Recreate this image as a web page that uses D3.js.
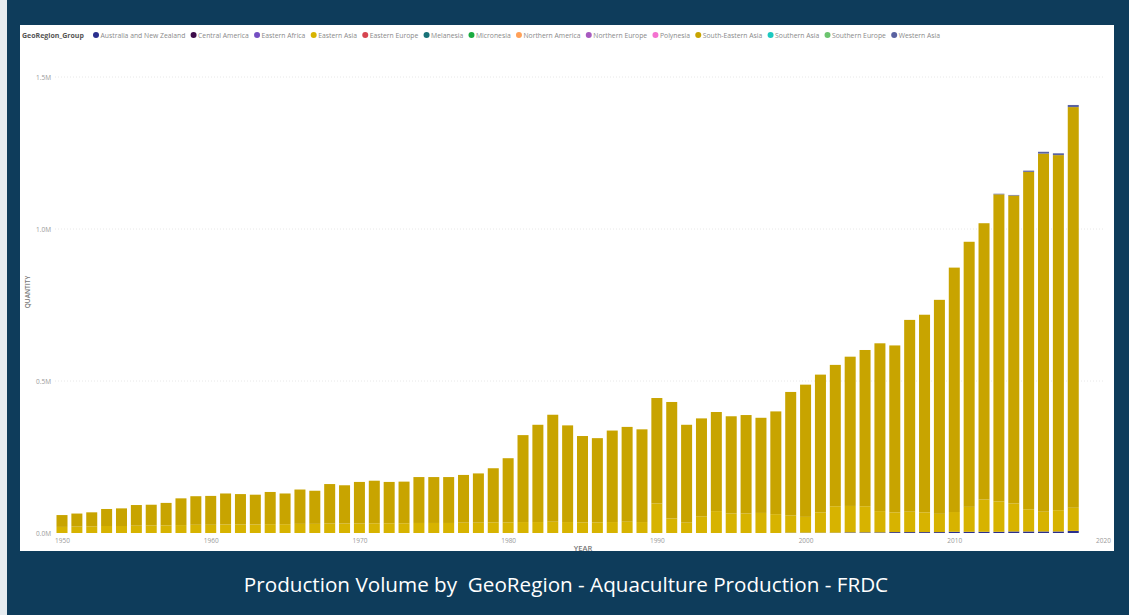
<!DOCTYPE html>
<html>
<head>
<meta charset="utf-8">
<script src="https://cdn.jsdelivr.net/npm/d3@7"></script>
<style>
  html, body { margin: 0; padding: 0; background: #0e3c5b; }
  svg { display: block; }
</style>
</head>
<body>
<svg id="chart" width="1129" height="615"></svg>
<script>
// ---------------- DATA (values in thousands of units) ----------------
const years = d3.range(1950, 2019);

const seriesNames = [
  "Australia and New Zealand", "Central America", "Eastern Africa", "Eastern Asia",
  "Eastern Europe", "Melanesia", "Micronesia", "Northern America", "Northern Europe",
  "Polynesia", "South-Eastern Asia", "Southern Asia", "Southern Europe", "Western Asia"
];
const seriesColors = [
  "#2a2f8e", "#3d0b4a", "#744ec2", "#d7b300",
  "#d64550", "#197278", "#1aab40", "#ffa058", "#a75ac0",
  "#f472d0", "#c8a400", "#1cc9c0", "#6cc46f", "#5a62a0"
];

const ausNZ = [
  0,0,0,0,0,0,0,0,0,0,
  0,0,0,0,0,0,0,0,0,0,
  0,0,0,0,0,0,0,0,0,0,
  0,0,0,0,0,0,0,0,0,0,
  0,0,0,0,0,0,0,0,0,1,
  1,1,1,2,2,2,3,3,3,3,
  4,4,4,4,5,5,5,5,7
];
const eastAsia = [
  20,21,22,23,23,24,25,25,26,27,
  27,28,28,28,29,29,30,30,31,31,
  31,32,32,32,33,33,33,34,34,35,
  35,36,36,37,36,35,35,36,37,36,
  97,48,34,55,72,64,64,66,62,57,
  52,67,87,87,86,70,65,67,65,60,
  65,82,106,100,92,73,65,70,76
];
const seAsia = [
  39,43,46,56,58,68,68,74,88,94,
  95,102,100,98,106,101,113,109,130,126,
  137,140,136,137,151,151,151,157,162,178,
  211,286,320,352,318,284,277,301,312,305,
  347,383,322,322,326,320,324,313,338,406,
  435,453,465,491,514,552,549,631,650,704,
  804,872,909,1010,1013,1110,1178,1168,1318
];
const westAsia = [
  0,0,0,0,0,0,0,0,0,0,
  0,0,0,0,0,0,0,0,0,0,
  0,0,0,0,0,0,0,0,0,0,
  0,0,0,0,0,0,0,0,0,0,
  0,0,0,0,0,0,0,0,0,0,
  0,0,0,0,0,0,0,0,0,0,
  0,0,0,2,2,4,6,6,7
];

const yTickValues = [0, 500, 1000, 1500];
const yTickLabels = ["0.0M", "0.5M", "1.0M", "1.5M"];
const xTickValues = [1950, 1960, 1970, 1980, 1990, 2000, 2010, 2020];

const titleText = "Production Volume by  GeoRegion - Aquaculture Production - FRDC";

// ---------------- LAYOUT ----------------
const svg = d3.select("#chart");
const W = 1129, H = 615;
const panel = { x: 20, y: 25, w: 1094, h: 526 };
const plot = { left: 55, right: 1103, top: 77, bottom: 533 };
const font = "'Open Sans', 'Noto Sans', sans-serif";

svg.append("rect").attr("width", W).attr("height", H).attr("fill", "#0e3c5b");
svg.append("rect").attr("x", 0).attr("y", 0).attr("width", 7).attr("height", H).attr("fill", "#e6ecf0");
svg.append("rect").attr("x", panel.x).attr("y", panel.y).attr("width", panel.w).attr("height", panel.h).attr("fill", "#ffffff");

const valueMap = {
  "Australia and New Zealand": ausNZ,
  "Eastern Asia": eastAsia,
  "South-Eastern Asia": seAsia,
  "Western Asia": westAsia
};
const table = years.map((yr, i) => {
  const row = { year: yr };
  seriesNames.forEach(s => { row[s] = valueMap[s] ? valueMap[s][i] : 0; });
  return row;
});
const stacked = d3.stack().keys(seriesNames)(table);

const x = d3.scaleLinear().domain([1950, 2020]).range([62, 1103]);
const y = d3.scaleLinear().domain([0, 1500]).range([plot.bottom, plot.top]);
const color = d3.scaleOrdinal().domain(seriesNames).range(seriesColors);
const step = x(1951) - x(1950);
const barW = step * 0.74;

// gridlines
const grid = svg.append("g");
grid.selectAll("line").data(yTickValues.slice(1)).join("line")
  .attr("x1", plot.left).attr("x2", plot.right)
  .attr("y1", d => y(d)).attr("y2", d => y(d))
  .attr("stroke", "#e8e8e8").attr("stroke-width", 1).attr("stroke-dasharray", "1,2");

// bars
const g = svg.append("g");
g.selectAll("g.layer").data(stacked).join("g")
  .attr("class", "layer")
  .attr("fill", d => color(d.key))
  .selectAll("rect").data(d => d.filter(p => p[1] - p[0] > 0)).join("rect")
  .attr("x", d => x(d.data.year) - barW / 2)
  .attr("width", barW)
  .attr("y", d => y(d[1]))
  .attr("height", d => y(d[0]) - y(d[1]));

// y axis
const yAxis = d3.axisLeft(y).tickValues(yTickValues)
  .tickFormat((d, i) => yTickLabels[i]).tickSize(0).tickPadding(0);
const ya = svg.append("g").attr("transform", `translate(51,0)`).call(yAxis);
ya.select(".domain").remove();
ya.selectAll("text").attr("font-family", font).attr("font-size", 6.5).attr("fill", "#9a9a9a");

// x axis
const xAxis = d3.axisBottom(x).tickValues(xTickValues).tickFormat(d3.format("d")).tickSize(0).tickPadding(0);
const xa = svg.append("g").attr("transform", `translate(0,538)`).call(xAxis);
xa.select(".domain").remove();
xa.selectAll("text").attr("font-family", font).attr("font-size", 6.5).attr("fill", "#9a9a9a");

// axis titles
svg.append("text").attr("x", 583).attr("y", 551).attr("text-anchor", "middle")
  .attr("font-family", font).attr("font-size", 7.5).attr("font-weight", 600).attr("fill", "#777")
  .text("YEAR");
svg.append("text").attr("transform", "translate(30,292) rotate(-90)").attr("text-anchor", "middle")
  .attr("font-family", font).attr("font-size", 6.5).attr("font-weight", 600).attr("fill", "#777")
  .text("QUANTITY");

// legend
const leg = svg.append("g").attr("transform", "translate(22,35)");
leg.append("text").attr("x", 0).attr("y", 2.5)
  .attr("font-family", font).attr("font-size", 7).attr("font-weight", 700).attr("fill", "#555")
  .text("GeoRegion_Group");
const items = leg.selectAll("g.item").data(seriesNames).join("g").attr("class", "item");
items.append("circle").attr("r", 3).attr("cx", 0).attr("cy", 0).attr("fill", d => color(d));
items.append("text").attr("x", 4.5).attr("y", 2.5)
  .attr("font-family", font).attr("font-size", 6.8).attr("fill", "#8a8a8a").text(d => d);
const widths = [];
items.each(function() { widths.push(this.querySelector("text").getComputedTextLength() + 4.5); });
const startX = 96 - 22, endX = 940 - 22;
const totalW = d3.sum(widths);
const gap = (endX - startX - totalW) / (seriesNames.length - 1);
let cx = startX;
items.attr("transform", (d, i) => { const t = `translate(${cx},0)`; cx += widths[i] + gap; return t; });

// title
const title = svg.append("text").attr("x", 566).attr("y", 592).attr("text-anchor", "middle")
  .attr("font-family", font).attr("font-size", 18).attr("font-weight", 500).attr("fill", "#ffffff")
  .style("white-space", "pre")
  .text(titleText);
const tw = title.node().getComputedTextLength();
title.attr("font-size", 18 * 645 / tw);
</script>
</body>
</html>
